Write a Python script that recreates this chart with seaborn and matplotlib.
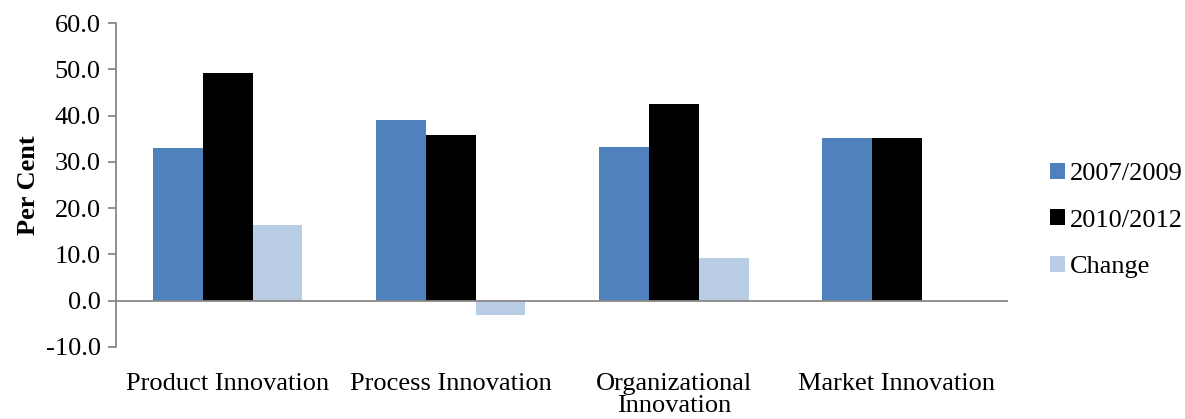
import pandas as pd
import matplotlib.pyplot as plt
import seaborn as sns

# -----------------------------
# Data
# -----------------------------
categories = ['Product Innovation', 'Process Innovation', 'Organizational\nInnovation', 'Market Innovation']
period_1 = [32.9, 39.0, 33.2, 35.2]
period_2 = [49.3, 35.9, 42.5, 35.2]
change = [16.3, -3.0, 9.3, 0.0]
series = ['2007/2009', '2010/2012', 'Change']

df = pd.DataFrame({
    'Category': categories * 3,
    'Series': [series[0]] * 4 + [series[1]] * 4 + [series[2]] * 4,
    'Value': period_1 + period_2 + change,
})

# -----------------------------
# Plot
# -----------------------------
sns.set_style('white')
plt.rcParams['font.family'] = ['Liberation Serif', 'DejaVu Serif']
plt.rcParams['text.color'] = 'black'
plt.rcParams['xtick.color'] = 'black'
plt.rcParams['ytick.color'] = 'black'
plt.rcParams['axes.labelcolor'] = 'black'

fig, ax = plt.subplots(figsize=(11.85, 4.19), dpi=100)
fig.subplots_adjust(left=0.098, right=0.851, top=0.945, bottom=0.172)

palette = ['#4F81BD', '#000000', '#B9CDE5']
sns.barplot(data=df, x='Category', y='Value', hue='Series', palette=palette,
            width=0.67, gap=0, saturation=1, ax=ax, legend=True)
for bar in ax.patches:
    bar.set_linewidth(0)

fs = 19
ax.set_ylim(-10, 60)
ax.set_yticks(range(-10, 61, 10))
ax.set_yticklabels([f'{v:.1f}' for v in range(-10, 61, 10)], fontsize=fs)
ax.set_xlim(-0.5, 3.5)
ax.set_xlabel('')
ax.set_ylabel('Per Cent', fontsize=fs, fontweight='bold', labelpad=4)

ax.axhline(0, color='#888888', lw=1.3, zorder=3)
for s in ['top', 'right', 'bottom']:
    ax.spines[s].set_visible(False)
ax.spines['left'].set_color('#888888')
ax.spines['left'].set_linewidth(1.3)
ax.tick_params(axis='y', left=True, length=6, width=1.3, color='#888888', pad=5)
ax.tick_params(axis='x', bottom=False, labelsize=fs, pad=15)
for lbl in ax.get_xticklabels():
    lbl.set_linespacing(1.0)

leg = ax.legend(loc='center left', bbox_to_anchor=(1.035, 0.39), frameon=False,
                fontsize=fs, handlelength=0.55, handleheight=0.55, handletextpad=0.2,
                labelspacing=0.92, borderaxespad=0)

plt.savefig('out.png', dpi=100)
